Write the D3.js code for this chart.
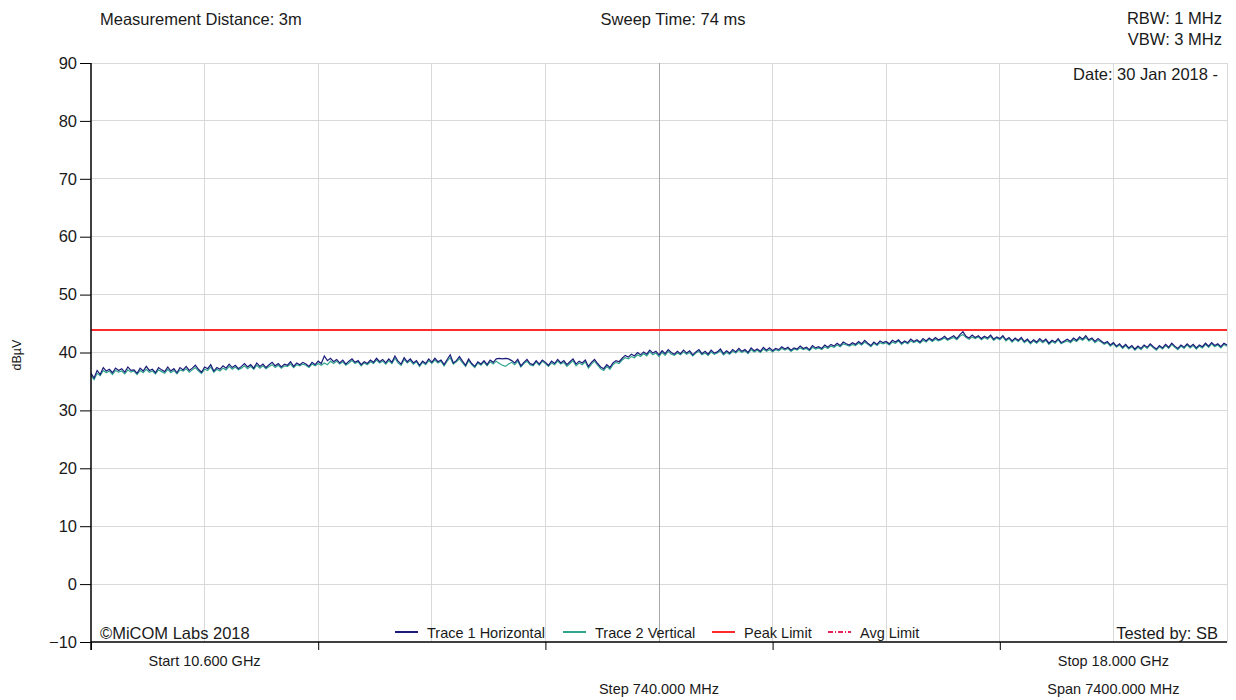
<!DOCTYPE html>
<html>
<head>
<meta charset="utf-8">
<script src="https://cdn.jsdelivr.net/npm/d3@7"></script>
<style>
  html, body { margin: 0; padding: 0; background: #ffffff; }
  svg { display: block; font-family: "Liberation Sans", Arial, sans-serif; }
</style>
</head>
<body>
<svg id="chart" width="1236" height="700"></svg>
<script>
// Sweep settings (GHz)
const startGHz = 10.6;
const stopGHz = 18.0;
const pointStepGHz = 0.02;

// Y axis ticks (dBµV)
const yTicks = [-10, 0, 10, 20, 30, 40, 50, 60, 70, 80, 90];
// Frequency grid: 10 divisions of 740 MHz, marked ticks every other division
const gridFreqs = [10.6, 11.34, 12.08, 12.82, 13.56, 14.3, 15.04, 15.78, 16.52, 17.26, 18.0];
const tickFreqs = [10.6, 12.08, 13.56, 15.04, 16.52];

// Limits (dBµV)
const peakLimit = 43.9;

// Trace 1 Horizontal (dBµV), one value per 20 MHz sweep point
const trace1 = [
  36.4, 35.6, 36.9, 36.2, 37.4, 36.8, 37.1, 36.5, 37.3, 36.9,
  37.2, 36.6, 37.5, 36.9, 37.0, 36.4, 37.3, 36.8, 37.6, 36.9,
  37.1, 36.5, 37.4, 37.0, 36.7, 37.5, 36.8, 37.2, 36.5, 37.4,
  37.0, 37.6, 36.9, 37.3, 37.8, 37.1, 36.6, 37.5, 37.2, 37.9,
  36.8, 37.4, 37.1, 37.7, 37.3, 38.0, 37.4, 37.8, 37.2, 37.6,
  38.1, 37.5, 37.9, 37.3, 38.2, 37.6, 38.0, 37.4, 37.9, 38.3,
  37.7, 38.1, 37.5, 38.0, 37.8, 38.4, 37.6, 38.2, 37.9, 38.3,
  38.0, 37.6, 38.3, 37.9, 38.5, 38.1, 39.4, 38.6, 39.0, 38.4,
  38.8, 38.2, 38.7, 38.0, 38.5, 38.9, 38.3, 38.6, 37.9, 38.4,
  38.1, 38.7, 38.3, 39.0, 38.4, 38.8, 38.2, 38.9, 38.3, 39.4,
  38.5, 38.0, 39.1, 38.4, 38.9, 38.2, 38.6, 37.8, 38.5, 38.1,
  38.9, 38.3, 39.0, 38.4, 38.7, 37.9, 38.8, 39.6, 38.2, 38.6,
  39.3, 38.5, 37.8, 38.9, 38.1, 37.6, 38.4, 38.0, 38.6, 37.9,
  38.7, 38.3, 38.9, 39.0, 38.9, 39.0, 38.9, 38.6, 38.2, 38.8,
  37.7, 38.3, 38.8, 38.1, 37.9, 38.6, 38.0, 38.7, 38.3, 37.8,
  38.5, 38.1, 38.8, 38.2, 38.6, 37.9, 38.4, 38.9, 38.0, 38.5,
  38.2, 38.7, 37.6, 38.3, 38.8, 38.1, 37.5, 37.2, 37.9, 37.4,
  38.2, 38.6, 38.4, 39.0, 39.5, 39.2, 39.7, 39.4, 40.0, 39.6,
  40.1, 39.7, 40.4, 39.9, 40.2, 39.6, 40.3, 39.8, 40.5, 40.0,
  39.7, 40.2, 39.8, 40.4, 39.9, 40.3, 39.6, 40.1, 40.5, 39.8,
  40.2, 39.7, 40.4, 39.9, 40.1, 40.6, 39.8, 40.3, 39.9, 40.5,
  40.1, 40.7, 40.2, 40.5, 40.0, 40.8, 40.3, 40.6, 40.2, 40.9,
  40.4, 40.8, 40.3, 40.7, 40.5, 41.0, 40.6, 40.9, 40.4, 40.8,
  40.6, 41.1, 40.7, 40.9, 40.5, 41.2, 40.8, 41.0, 40.7, 41.3,
  40.9, 41.4, 41.1, 41.6, 41.2, 41.8, 41.5, 41.3, 41.7, 41.4,
  41.9, 41.5, 42.1, 41.6, 41.2, 41.8, 41.4, 42.0, 41.7, 41.9,
  41.5, 42.1, 41.8, 42.2, 41.6, 42.0, 41.7, 42.3, 41.9, 42.2,
  41.8, 42.4, 42.0, 42.5, 42.1, 42.6, 42.2, 42.4, 42.8, 42.3,
  42.6, 42.9, 42.4, 43.1, 43.6, 42.8, 42.5, 43.0, 42.6, 42.9,
  42.4, 42.8, 42.5, 43.0, 42.3, 42.7, 42.4, 42.9, 42.2, 42.6,
  42.0, 42.5, 42.1, 42.6, 41.9, 42.3, 41.7, 42.2, 41.8, 42.4,
  41.9, 42.3, 41.6, 42.1, 41.8, 42.4, 41.7, 42.0, 42.3, 41.9,
  42.5, 42.1, 42.7, 42.3, 42.9, 42.2, 42.5, 41.9, 42.4, 42.0,
  41.6, 41.9, 41.3, 41.7, 41.1, 41.5, 40.9, 41.4, 40.8, 41.2,
  40.6, 41.1, 40.7, 41.3, 40.9, 41.5, 41.0, 40.6, 41.2, 40.8,
  41.4, 40.9, 41.6, 41.1, 40.7, 41.3, 40.9, 41.5, 41.0, 41.4,
  40.8, 41.3, 41.0, 41.6, 41.1, 41.7, 41.2, 41.5, 41.0, 41.6, 41.3
];

// Trace 2 Vertical (dBµV), one value per 20 MHz sweep point
const trace2 = [
  36.0, 35.3, 36.4, 36.0, 36.9, 36.5, 36.8, 36.2, 36.9, 36.6,
  36.8, 36.3, 37.0, 36.6, 36.8, 36.2, 36.9, 36.5, 37.1, 36.6,
  36.8, 36.3, 37.0, 36.7, 36.4, 37.1, 36.5, 36.9, 36.3, 37.0,
  36.8, 37.2, 36.6, 37.0, 37.4, 36.8, 36.4, 37.1, 36.9, 37.5,
  36.6, 37.1, 36.8, 37.3, 37.0, 37.6, 37.1, 37.5, 37.0, 37.3,
  37.7, 37.2, 37.6, 37.1, 37.8, 37.3, 37.7, 37.2, 37.6, 37.9,
  37.4, 37.8, 37.3, 37.7, 37.6, 38.0, 37.4, 37.9, 37.7, 38.0,
  37.8, 37.4, 38.0, 37.7, 38.1, 37.8, 38.2, 37.9, 38.5, 38.1,
  38.5, 38.0, 38.4, 37.8, 38.2, 38.6, 38.1, 38.4, 37.7, 38.2,
  37.9, 38.4, 38.1, 38.7, 38.2, 38.5, 38.0, 38.6, 38.1, 39.0,
  38.2, 37.8, 38.8, 38.2, 38.6, 38.0, 38.4, 37.6, 38.3, 37.9,
  38.6, 38.1, 38.7, 38.2, 38.5, 37.7, 38.5, 39.1, 38.0, 38.4,
  38.9, 38.2, 37.6, 38.6, 37.9, 37.4, 38.2, 37.8, 38.4, 37.7,
  38.4, 38.0, 38.5, 38.1, 37.8, 37.6, 38.0, 38.3, 37.9, 38.5,
  37.5, 38.1, 38.5, 37.9, 37.7, 38.4, 37.8, 38.5, 38.1, 37.6,
  38.2, 37.9, 38.5, 38.0, 38.3, 37.6, 38.1, 38.6, 37.7, 38.2,
  37.9, 38.4, 37.3, 38.0, 38.5, 37.8, 37.2, 36.9, 37.6, 37.1,
  37.9, 38.3, 38.1, 38.7, 39.1, 38.9, 39.3, 39.1, 39.6, 39.3,
  39.8, 39.4, 40.1, 39.6, 39.9, 39.3, 40.0, 39.5, 40.2, 39.7,
  39.5, 39.9, 39.6, 40.1, 39.7, 40.0, 39.4, 39.9, 40.2, 39.6,
  39.9, 39.5, 40.1, 39.7, 39.9, 40.3, 39.6, 40.0, 39.7, 40.2,
  39.9, 40.4, 40.0, 40.3, 39.8, 40.5, 40.1, 40.4, 40.0, 40.6,
  40.2, 40.5, 40.1, 40.5, 40.3, 40.7, 40.4, 40.7, 40.2, 40.6,
  40.4, 40.8, 40.5, 40.7, 40.3, 40.9, 40.6, 40.8, 40.5, 41.0,
  40.7, 41.1, 40.9, 41.3, 41.0, 41.5, 41.3, 41.1, 41.4, 41.2,
  41.6, 41.3, 41.8, 41.4, 41.0, 41.6, 41.2, 41.7, 41.5, 41.7,
  41.3, 41.8, 41.6, 42.0, 41.4, 41.8, 41.5, 42.0, 41.7, 42.0,
  41.6, 42.1, 41.8, 42.3, 41.9, 42.3, 42.0, 42.2, 42.5, 42.1,
  42.4, 42.6, 42.2, 42.8, 43.1, 42.6, 42.3, 42.7, 42.4, 42.7,
  42.2, 42.6, 42.3, 42.8, 42.1, 42.5, 42.2, 42.7, 42.0, 42.4,
  41.8, 42.3, 41.9, 42.4, 41.7, 42.1, 41.5, 42.0, 41.6, 42.1,
  41.7, 42.1, 41.4, 41.9, 41.6, 42.2, 41.5, 41.8, 42.0, 41.7,
  42.2, 41.9, 42.4, 42.1, 42.6, 42.0, 42.3, 41.7, 42.1, 41.8,
  41.4, 41.7, 41.1, 41.5, 40.9, 41.3, 40.7, 41.2, 40.6, 41.0,
  40.4, 40.9, 40.5, 41.1, 40.7, 41.3, 40.8, 40.4, 41.0, 40.6,
  41.2, 40.7, 41.4, 40.9, 40.5, 41.1, 40.7, 41.3, 40.8, 41.2,
  40.6, 41.1, 40.8, 41.4, 40.9, 41.5, 41.0, 41.3, 40.8, 41.4, 41.1
];

const colors = {
  trace1: "#1b1b7a",
  trace2: "#2fa58c",
  peak: "#ff2b2b",
  avg: "#e8245a",
  grid: "#d9d9d9",
  gridMid: "#a9a9a9",
  text: "#1a1a1a"
};

const svg = d3.select("#chart");
const plot = { left: 91, right: 1227, top: 63, bottom: 642 };

const x = d3.scaleLinear().domain([startGHz, stopGHz]).range([plot.left, plot.right]);
const y = d3.scaleLinear().domain([-10, 90]).range([plot.bottom, plot.top]);

// Grid
const grid = svg.append("g");
grid.selectAll("line.h").data(yTicks.filter(v => v > -10)).enter().append("line")
  .attr("x1", plot.left).attr("x2", plot.right)
  .attr("y1", d => y(d)).attr("y2", d => y(d))
  .attr("stroke", colors.grid).attr("stroke-width", 1).attr("shape-rendering", "crispEdges");
grid.selectAll("line.v").data(gridFreqs.slice(1)).enter().append("line")
  .attr("x1", d => x(d)).attr("x2", d => x(d))
  .attr("y1", plot.top).attr("y2", plot.bottom)
  .attr("stroke", (d, i) => i === 4 ? colors.gridMid : colors.grid)
  .attr("stroke-width", 1).attr("shape-rendering", "crispEdges");

// Peak limit
svg.append("line")
  .attr("x1", plot.left).attr("x2", plot.right)
  .attr("y1", y(peakLimit)).attr("y2", y(peakLimit))
  .attr("stroke", colors.peak).attr("stroke-width", 2);

// Traces
const freqOf = i => startGHz + i * pointStepGHz;
const line = d3.line().x((d, i) => x(freqOf(i))).y(d => y(d));
svg.append("path").datum(trace2).attr("d", line)
  .attr("fill", "none").attr("stroke", colors.trace2).attr("stroke-width", 1.2);
svg.append("path").datum(trace1).attr("d", line)
  .attr("fill", "none").attr("stroke", colors.trace1).attr("stroke-width", 1.2);

// Axes
const yAxis = svg.append("g").attr("transform", `translate(${plot.left},0)`)
  .call(d3.axisLeft(y).tickValues(yTicks).tickSize(11).tickPadding(3).tickSizeOuter(0));
yAxis.select(".domain").remove();
yAxis.selectAll("text").attr("font-size", 16.5).attr("fill", colors.text)
  .attr("font-family", "Liberation Sans, Arial, sans-serif");
yAxis.selectAll("line").attr("stroke", "#000");
svg.append("line").attr("x1", plot.left).attr("x2", plot.left)
  .attr("y1", plot.top).attr("y2", plot.bottom + 8)
  .attr("stroke", "#000").attr("stroke-width", 1.5);

const xAxis = svg.append("g").attr("transform", `translate(0,${plot.bottom})`)
  .call(d3.axisBottom(x).tickValues(tickFreqs).tickSize(8).tickFormat(""));
xAxis.select(".domain").remove();
xAxis.selectAll("line").attr("stroke", "#000");
svg.append("line").attr("x1", plot.left).attr("x2", plot.right)
  .attr("y1", plot.bottom).attr("y2", plot.bottom)
  .attr("stroke", "#000").attr("stroke-width", 1.5);

// Texts
function label(txt, px, py, size, anchor) {
  svg.append("text").attr("x", px).attr("y", py)
    .attr("font-size", size).attr("fill", colors.text)
    .attr("text-anchor", anchor || "start").text(txt);
}
label("Measurement Distance: 3m", 100, 25, 16.5);
label("Sweep Time: 74 ms", 673, 25, 16.5, "middle");
label("RBW: 1 MHz", 1222, 24, 16.5, "end");
label("VBW: 3 MHz", 1222, 45, 16.5, "end");
label("Date: 30 Jan 2018 -", 1218, 80, 16.5, "end");
label("©MiCOM Labs 2018", 100, 639, 16.5);
label("Tested by: SB", 1218, 639, 16.5, "end");
label("Start 10.600 GHz", x(startGHz + 0.74), 666, 14.5, "middle");
label("Stop 18.000 GHz", x(stopGHz - 0.74), 666, 14.5, "middle");
label("Step 740.000 MHz", x(14.3), 694, 14.5, "middle");
label("Span 7400.000 MHz", x(stopGHz - 0.74), 694, 14.5, "middle");

svg.append("text").attr("transform", "translate(21,355) rotate(-90)")
  .attr("text-anchor", "middle").attr("font-size", 12.5).attr("fill", colors.text).text("dBµV");

// Legend
const legendItems = [
  { name: "Trace 1 Horizontal", color: colors.trace1, dash: null, x: 395 },
  { name: "Trace 2 Vertical", color: colors.trace2, dash: null, x: 563 },
  { name: "Peak Limit", color: colors.peak, dash: null, x: 712 },
  { name: "Avg Limit", color: colors.avg, dash: "5,2,1,2", x: 828 }
];
const lg = svg.append("g");
legendItems.forEach(it => {
  lg.append("line").attr("x1", it.x).attr("x2", it.x + 23)
    .attr("y1", 632).attr("y2", 632)
    .attr("stroke", it.color).attr("stroke-width", 2)
    .attr("stroke-dasharray", it.dash);
  lg.append("text").attr("x", it.x + 32).attr("y", 638)
    .attr("font-size", 14.5).attr("fill", colors.text).text(it.name);
});
</script>
</body>
</html>
